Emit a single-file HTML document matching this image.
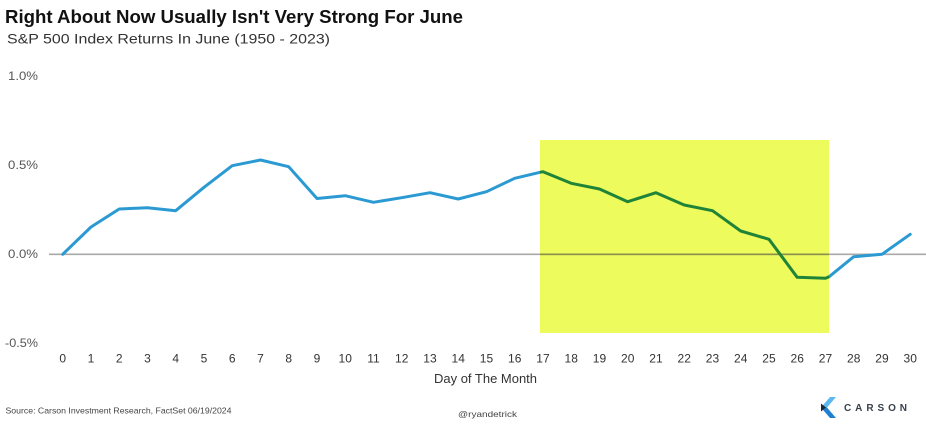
<!DOCTYPE html>
<html>
<head>
<meta charset="utf-8">
<style>
  html, body { margin:0; padding:0; background:#ffffff; }
  body { width:926px; height:426px; overflow:hidden; }
  svg { display:block; }
  text { font-family: "Liberation Sans", Arial, sans-serif; }
</style>
</head>
<body>
<svg width="926" height="426" viewBox="0 0 926 426" xmlns="http://www.w3.org/2000/svg">
  <rect x="0" y="0" width="926" height="426" fill="#ffffff"/>

  <!-- Title & subtitle -->
  <text x="5" y="23" font-size="18" font-weight="bold" fill="#111" textLength="458" lengthAdjust="spacingAndGlyphs">Right About Now Usually Isn't Very Strong For June</text>
  <text x="7" y="43.5" font-size="14" fill="#333" textLength="323" lengthAdjust="spacingAndGlyphs">S&amp;P 500 Index Returns In June (1950 - 2023)</text>

  <!-- Y axis labels -->
  <g font-size="11.5" fill="#555">
    <text x="8" y="80" textLength="30" lengthAdjust="spacingAndGlyphs">1.0%</text>
    <text x="8" y="169" textLength="30" lengthAdjust="spacingAndGlyphs">0.5%</text>
    <text x="8" y="258" textLength="30" lengthAdjust="spacingAndGlyphs">0.0%</text>
    <text x="5" y="347" textLength="33" lengthAdjust="spacingAndGlyphs">-0.5%</text>
  </g>

  <!-- Highlight -->
  <rect x="540" y="140" width="289" height="193" fill="#eefb5c"/>

  <!-- Zero line -->
  <line x1="49" y1="254.3" x2="926" y2="254.3" stroke="#a9a9a9" stroke-width="1.6"/>
  <line x1="540" y1="254.3" x2="829" y2="254.3" stroke="#8c8f4a" stroke-width="1.6"/>

  <!-- Series blue part -->
  <polyline fill="none" stroke="#2b9ad3" stroke-width="3" stroke-linejoin="round" stroke-linecap="round"
    points="62.7,254.3 91,227 119.2,209 147.5,207.7 175.7,210.7 204,187.3 232.2,165.7 260.5,160 288.7,166.7 317,198.5 345.2,195.7 373.5,202.3 401.7,197.7 430,192.7 458.2,199 486.5,191.7 514.7,178.3 540,172.3"/>
  <polyline fill="none" stroke="#2b9ad3" stroke-width="3" stroke-linejoin="round" stroke-linecap="round"
    points="829,276.8 853.7,256.7 882,254.3 910.2,234.3"/>
  <!-- Series green part -->
  <polyline fill="none" stroke="#1f8438" stroke-width="3" stroke-linejoin="round"
    points="540,172.3 543,171.7 571.2,183.3 599.5,189 627.7,201.7 656,192.7 684.2,205 712.5,210.7 740.7,231 769,239.3 797.2,277.3 825.5,278.3 829,276.8"/>

  <!-- X tick labels -->
  <g font-size="12" fill="#333" text-anchor="middle">
    <text x="62.7" y="362.5">0</text>
    <text x="90.95" y="362.5">1</text>
    <text x="119.2" y="362.5">2</text>
    <text x="147.45" y="362.5">3</text>
    <text x="175.7" y="362.5">4</text>
    <text x="203.95" y="362.5">5</text>
    <text x="232.2" y="362.5">6</text>
    <text x="260.45" y="362.5">7</text>
    <text x="288.7" y="362.5">8</text>
    <text x="316.95" y="362.5">9</text>
    <text x="345.2" y="362.5">10</text>
    <text x="373.45" y="362.5">11</text>
    <text x="401.7" y="362.5">12</text>
    <text x="429.95" y="362.5">13</text>
    <text x="458.2" y="362.5">14</text>
    <text x="486.45" y="362.5">15</text>
    <text x="514.7" y="362.5">16</text>
    <text x="542.95" y="362.5">17</text>
    <text x="571.2" y="362.5">18</text>
    <text x="599.45" y="362.5">19</text>
    <text x="627.7" y="362.5">20</text>
    <text x="655.95" y="362.5">21</text>
    <text x="684.2" y="362.5">22</text>
    <text x="712.45" y="362.5">23</text>
    <text x="740.7" y="362.5">24</text>
    <text x="768.95" y="362.5">25</text>
    <text x="797.2" y="362.5">26</text>
    <text x="825.45" y="362.5">27</text>
    <text x="853.7" y="362.5">28</text>
    <text x="881.95" y="362.5">29</text>
    <text x="910.2" y="362.5">30</text>
  </g>

  <!-- X axis title -->
  <text x="434" y="383" font-size="13" fill="#333" textLength="103" lengthAdjust="spacingAndGlyphs">Day of The Month</text>

  <!-- Footer -->
  <text x="5.5" y="413.3" font-size="8.5" fill="#444" textLength="226" lengthAdjust="spacingAndGlyphs">Source: Carson Investment Research, FactSet 06/19/2024</text>
  <text x="458" y="417" font-size="8.5" fill="#444" textLength="59" lengthAdjust="spacingAndGlyphs">@ryandetrick</text>

  <!-- Carson logo -->
  <g>
    <polygon points="836,397 830,397 821,407.5 827,407.5" fill="#5cb8f0"/>
    <polygon points="821,407.5 827,407.5 836,418 830,418" fill="#1f7fd0"/>
    <polygon points="821,403.5 826,407.5 821,411.5" fill="#1b2a3a"/>
  </g>
  <text x="844" y="411" font-size="10" font-weight="bold" fill="#37414c" textLength="63" lengthAdjust="spacing">CARSON</text>
</svg>
</body>
</html>
